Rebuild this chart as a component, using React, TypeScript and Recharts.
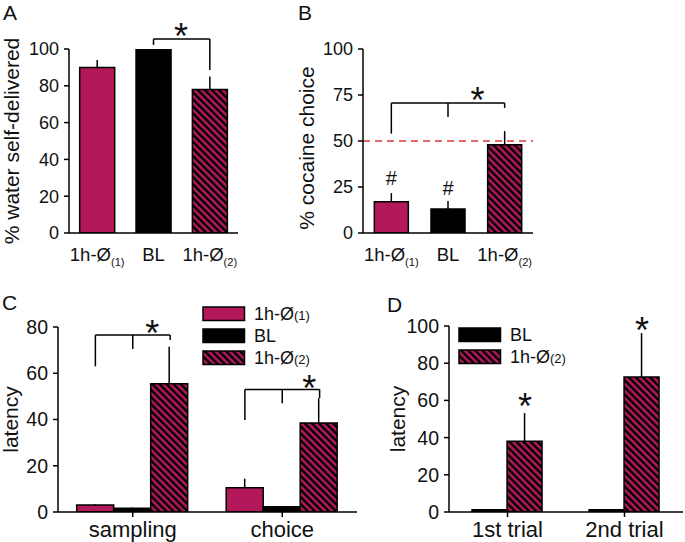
import React from 'react';
import {
  BarChart, Bar, XAxis, YAxis, Cell, ErrorBar, ReferenceLine, ReferenceDot, Legend,
} from 'recharts';

const FONT = '"Liberation Sans", Arial, sans-serif';
const CRIMSON = '#b3195a';
const INK = '#111';

// panel A / B
const catsAB = ['1h-Ø(1)', 'BL', '1h-Ø(2)'];
const waterPct = [90, 100, 78];
const waterErr = [4, 0, 7];
const cocainePct = [17, 13, 48];
const cocaineErr = [4.7, 4.4, 7.4];
const ticksA = [0, 20, 40, 60, 80, 100];
const ticksB = [0, 25, 50, 75, 100];
const chanceLevel = 50;

// panel C
const catsC = ['sampling', 'choice'];
const seriesC = ['1h-Ø(1)', 'BL', '1h-Ø(2)'];
const latC1 = [3, 10.5];
const latC1Err = [0.4, 3.9];
const latCBL = [1.6, 2.3];
const latCBLErr = [0.3, 0];
const latC2 = [55.5, 38.5];
const latC2Err = [16, 10.8];
const ticksC = [0, 20, 40, 60, 80];

// panel D
const catsD = ['1st trial', '2nd trial'];
const seriesD = ['BL', '1h-Ø(2)'];
const latDBL = [1.2, 1.2];
const latD2 = [38, 72.6];
const latD2Err = [15.2, 23.6];
const ticksD = [0, 20, 40, 60, 80, 100];

// significance marks (x in category units, y in axis units)
const bracketsA = [{ from: 1, to: 2, top: 105.4, legs: [[1, 102.2], [2, 88.6]] }];
const starsA = [[1.49, 111.4]];
const bracketsB = [{ from: 0, to: 2, top: 70.6, legs: [[0, 54], [1, 63], [2, 68]] }];
const starsB = [[1.52, 76.6]];
const hashB = [[0, 30], [1, 24.5]];
const bracketsC = [
  { from: -0.25, to: 0.25, top: 76.5, legs: [[-0.25, 63], [0, 70.5], [0.25, 74.4]] },
  { from: 0.75, to: 1.25, top: 53, legs: [[0.75, 39.8], [1, 47], [1.25, 49.3]] },
];
const starsC = [[0.13, 80.9], [1.18, 57]];
const starsD = [[0.15, 61.3], [1.15, 102]];

const fillsAB = [CRIMSON, '#000', 'url(#hatch)'];
const fillsC = [CRIMSON, '#000', 'url(#hatch)'];
const fillsD = ['#000', 'url(#hatch)'];

const dataA = catsAB.map((c, i) => ({ cat: c, v: waterPct[i], err: [0, waterErr[i]] }));
const dataB = catsAB.map((c, i) => ({ cat: c, v: cocainePct[i], err: [0, cocaineErr[i]] }));
const dataC = catsC.map((c, i) => ({
  cat: c,
  h1: latC1[i], h1e: [0, latC1Err[i]],
  bl: latCBL[i], ble: [0, latCBLErr[i]],
  h2: latC2[i], h2e: [0, latC2Err[i]],
}));
const dataD = catsD.map((c, i) => ({
  cat: c, bl: latDBL[i], h2: latD2[i], h2e: [0, latD2Err[i]],
}));

const axisStyle = { stroke: '#000', strokeWidth: 1.5 };

const splitSub = (s: string) => {
  const m = s.match(/^(.*?)(\(\d\))$/);
  return m ? [m[1], m[2]] : [s, ''];
};

function CatTick(props: any) {
  const { x, y, payload, size } = props;
  const [main, sub] = splitSub(String(payload.value));
  return (
    <text x={x} y={y} dy={size * 0.71} textAnchor="middle" fontSize={size} fontFamily={FONT} fill={INK}>
      <tspan>{main}</tspan>
      {sub && <tspan fontSize={size * 0.6} dy={5}>{sub}</tspan>}
    </text>
  );
}

const yTitle = (text: string, cx: number, dy = 0) => (p: any) => {
  const vb = p.viewBox || {};
  const cy = vb.y + vb.height / 2 + dy;
  return (
    <text transform={`translate(${cx},${cy}) rotate(-90)`} textAnchor="middle" dy="0.35em"
      fontSize={21} fontFamily={FONT} fill={INK}>{text}</text>
  );
};

const glyph = (ch: string, fs: number, lift: number) => (p: any) => (
  <text x={p.cx} y={p.cy + lift * fs} textAnchor="middle" fontSize={fs} fontFamily={FONT} fill={INK}>{ch}</text>
);

// hidden linear axis lined up with the category centres (index 0..n-1)
function PosAxis({ n, plotWidth }: { n: number; plotWidth: number }) {
  const half = plotWidth / n / 2;
  return (
    <XAxis xAxisId="n" type="number" domain={[0, n - 1]} hide allowDataOverflow
      padding={{ left: half, right: half }} />
  );
}

function brackets(list: any[], prefix: string) {
  const out: any[] = [];
  list.forEach((b, i) => {
    out.push(
      <ReferenceLine key={`${prefix}h${i}`} xAxisId="n" ifOverflow="visible" stroke="#000" strokeWidth={1.5}
        segment={[{ x: b.from, y: b.top }, { x: b.to, y: b.top }]} />,
    );
    b.legs.forEach((l: number[], j: number) => {
      out.push(
        <ReferenceLine key={`${prefix}l${i}${j}`} xAxisId="n" ifOverflow="visible" stroke="#000" strokeWidth={1.5}
          segment={[{ x: l[0], y: b.top }, { x: l[0], y: l[1] }]} />,
      );
    });
  });
  return out;
}

function marks(list: number[][], ch: string, fs: number, lift: number, prefix: string) {
  return list.map((m, i) => (
    <ReferenceDot key={`${prefix}${i}`} xAxisId="n" x={m[0]} y={m[1]} r={1} ifOverflow="visible"
      shape={glyph(ch, fs, lift)} />
  ));
}

function LegendBox({ names, fills }: { names: string[]; fills: string[] }) {
  return (
    <div style={{ fontFamily: FONT, fontSize: 18, color: INK }}>
      {names.map((n, i) => {
        const [main, sub] = splitSub(n);
        return (
          <div key={n + i} style={{ display: 'flex', alignItems: 'center', height: 22 }}>
            <svg width={44} height={16} style={{ marginRight: 8 }}>
              <rect x={1} y={1} width={41.5} height={13.5} fill={fills[i]} stroke="#000" strokeWidth={1.5} />
            </svg>
            <span>{main}<span style={{ fontSize: 13 }}>{sub}</span></span>
          </div>
        );
      })}
    </div>
  );
}

const tickFont = { fill: INK, fontSize: 18, fontFamily: FONT };
const tickFontCD = { fill: INK, fontSize: 19.5, fontFamily: FONT };

export default function App() {
  return (
    <div style={{ position: 'absolute', left: 0, top: 0, width: 685, height: 542, background: '#fff' }}>
      <svg width={0} height={0} style={{ position: 'absolute' }}>
        <defs>
          <pattern id="hatch" patternUnits="userSpaceOnUse" width={5} height={5} patternTransform="rotate(-45)">
            <rect width={5} height={5} fill={CRIMSON} />
            <rect width={2.4} height={5} fill="#000" />
          </pattern>
        </defs>
      </svg>

      {/* A */}
      <div style={{ position: 'absolute', left: 0, top: 0 }}>
        <BarChart width={250} height={275} data={dataA} margin={{ top: 49, right: 12, bottom: 12, left: 0 }}
          barCategoryGap="19%">
          <XAxis dataKey="cat" height={30} tickLine={false} axisLine={axisStyle} tickSize={5} tickMargin={10}
            interval={0} tick={(p: any) => <CatTick {...p} size={18.5} />} />
          {PosAxis({ n: 3, plotWidth: 250 - 12 - 69 })}
          <YAxis width={69} domain={[0, 100]} ticks={ticksA} interval={0} allowDataOverflow tickSize={5}
            tickMargin={5} axisLine={axisStyle} tickLine={axisStyle} tick={tickFont}
            label={yTitle('% water self-delivered', 12)} />
          <Bar dataKey="v" stroke="#000" strokeWidth={1.5} isAnimationActive={false}>
            {dataA.map((d, i) => <Cell key={d.cat} fill={fillsAB[i]} />)}
            <ErrorBar dataKey="err" width={0} stroke="#000" strokeWidth={1.5} direction="y" />
          </Bar>
          {brackets(bracketsA, 'a')}
          {marks(starsA, '*', 36, 0.58, 'as')}
        </BarChart>
      </div>

      {/* B */}
      <div style={{ position: 'absolute', left: 290, top: 0 }}>
        <BarChart width={255} height={275} data={dataB} margin={{ top: 49, right: 12, bottom: 12, left: 0 }}
          barCategoryGap="20%">
          <XAxis dataKey="cat" height={30} tickLine={false} axisLine={axisStyle} tickSize={5} tickMargin={10}
            interval={0} tick={(p: any) => <CatTick {...p} size={18.5} />} />
          {PosAxis({ n: 3, plotWidth: 255 - 12 - 73 })}
          <YAxis width={73} domain={[0, 100]} ticks={ticksB} interval={0} allowDataOverflow tickSize={5}
            tickMargin={5} axisLine={axisStyle} tickLine={axisStyle} tick={tickFont}
            label={yTitle('% cocaine choice', 17, 7)} />
          <Bar dataKey="v" stroke="#000" strokeWidth={1.5} isAnimationActive={false}>
            {dataB.map((d, i) => <Cell key={d.cat} fill={fillsAB[i]} />)}
            <ErrorBar dataKey="err" width={0} stroke="#000" strokeWidth={1.5} direction="y" />
          </Bar>
          <ReferenceLine y={chanceLevel} stroke="#d9343c" strokeWidth={1.6} strokeDasharray="7 5" />
          {brackets(bracketsB, 'b')}
          {marks(starsB, '*', 36, 0.58, 'bs')}
          {marks(hashB, '#', 20, 0.35, 'bh')}
        </BarChart>
      </div>

      {/* C */}
      <div style={{ position: 'absolute', left: 0, top: 290 }}>
        <BarChart width={360} height={252} data={dataC} margin={{ top: 37, right: 3, bottom: 0, left: 0 }}
          barCategoryGap="12.5%" barGap={0}>
          <XAxis dataKey="cat" height={30} axisLine={axisStyle} tickLine={axisStyle} tickSize={5} tickMargin={4}
            interval={0} tick={(p: any) => <CatTick {...p} size={22} />} />
          {PosAxis({ n: 2, plotWidth: 360 - 3 - 58 })}
          <YAxis width={58} domain={[0, 80]} ticks={ticksC} interval={0} allowDataOverflow tickSize={5}
            tickMargin={5} axisLine={axisStyle} tickLine={axisStyle} tick={tickFontCD}
            label={yTitle('latency', 11)} />
          <Bar dataKey="h1" name={seriesC[0]} fill={fillsC[0]} stroke="#000" strokeWidth={1.5} isAnimationActive={false}>
            <ErrorBar dataKey="h1e" width={0} stroke="#000" strokeWidth={1.5} direction="y" />
          </Bar>
          <Bar dataKey="bl" name={seriesC[1]} fill={fillsC[1]} stroke="#000" strokeWidth={1.5} isAnimationActive={false}>
            <ErrorBar dataKey="ble" width={0} stroke="#000" strokeWidth={1.5} direction="y" />
          </Bar>
          <Bar dataKey="h2" name={seriesC[2]} fill={fillsC[2]} stroke="#000" strokeWidth={1.5} isAnimationActive={false}>
            <ErrorBar dataKey="h2e" width={0} stroke="#000" strokeWidth={1.5} direction="y" />
          </Bar>
          <Legend layout="vertical" align="center" verticalAlign="middle"
            wrapperStyle={{ left: 202, top: 13, width: 'auto' }}
            content={() => <LegendBox names={seriesC} fills={fillsC} />} />
          {brackets(bracketsC, 'c')}
          {marks(starsC, '*', 36, 0.58, 'cs')}
        </BarChart>
      </div>

      {/* D */}
      <div style={{ position: 'absolute', left: 370, top: 290 }}>
        <BarChart width={315} height={252} data={dataD} margin={{ top: 36, right: 2, bottom: 0, left: 0 }}
          barCategoryGap="19.7%" barGap={0}>
          <XAxis dataKey="cat" height={30} axisLine={axisStyle} tickLine={axisStyle} tickSize={5} tickMargin={4}
            interval={0} tick={(p: any) => <CatTick {...p} size={22} />} />
          {PosAxis({ n: 2, plotWidth: 315 - 2 - 79 })}
          <YAxis width={79} domain={[0, 100]} ticks={ticksD} interval={0} allowDataOverflow tickSize={5}
            tickMargin={5} axisLine={axisStyle} tickLine={axisStyle} tick={tickFontCD}
            label={yTitle('latency', 28)} />
          <Bar dataKey="bl" name={seriesD[0]} fill={fillsD[0]} stroke="#000" strokeWidth={1.5} isAnimationActive={false} />
          <Bar dataKey="h2" name={seriesD[1]} fill={fillsD[1]} stroke="#000" strokeWidth={1.5} isAnimationActive={false}>
            <ErrorBar dataKey="h2e" width={0} stroke="#000" strokeWidth={1.5} direction="y" />
          </Bar>
          <Legend layout="vertical" align="center" verticalAlign="middle"
            wrapperStyle={{ left: 88, top: 34, width: 'auto' }}
            content={() => <LegendBox names={seriesD} fills={fillsD} />} />
          {marks(starsD, '*', 36, 0.58, 'ds')}
        </BarChart>
      </div>

      <svg width={685} height={542} style={{ position: 'absolute', left: 0, top: 0, pointerEvents: 'none' }}>
        <g fontFamily={FONT} fontSize={21} fill={INK}>
          <text x={3} y={20}>A</text>
          <text x={298} y={20}>B</text>
          <text x={2} y={310}>C</text>
          <text x={387} y={312}>D</text>
        </g>
      </svg>
    </div>
  );
}
